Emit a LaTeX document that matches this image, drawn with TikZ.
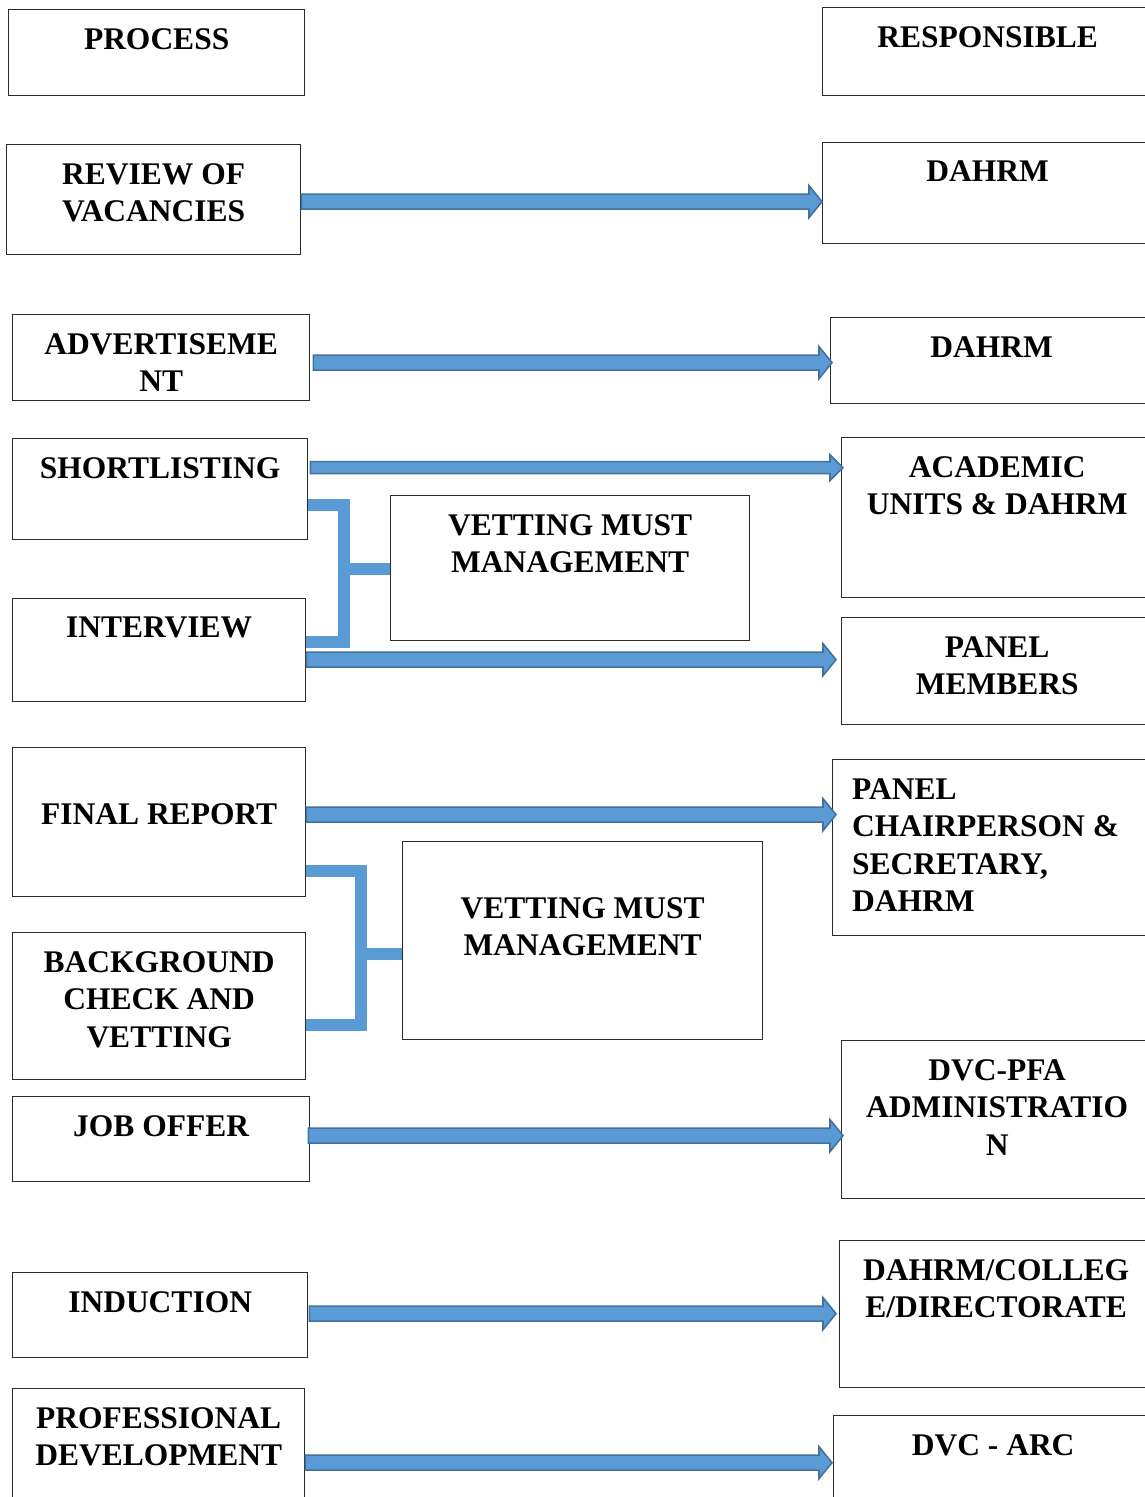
\documentclass[tikz,border=0pt]{standalone}
\usepackage{fontspec}
\setmainfont{Liberation Serif}
\usetikzlibrary{calc}

\definecolor{arrowfill}{HTML}{5B9BD5}
\definecolor{arrowline}{HTML}{41719C}
\definecolor{boxline}{HTML}{2B2B2B}

% block arrow from #2 to the x of #2, #1 = half shaft width
\newcommand{\flowarrow}[3][7.5]{%
  \draw[flow] let \p1=(#2), \p2=(#3) in
    (\x1,\y1+#1pt) -- (\x2-13pt,\y1+#1pt) -- (\x2-13pt,\y1+2.13*#1pt) -- (\x2,\y1)
    -- (\x2-13pt,\y1-2.13*#1pt) -- (\x2-13pt,\y1-#1pt) -- (\x1,\y1-#1pt) -- cycle;}

\begin{document}
\begin{tikzpicture}[x=1pt,y=-1pt,
  box/.style={draw=boxline, line width=1.3pt, inner sep=0pt, anchor=north west},
  txt/.style={anchor=north, align=center, inner sep=0pt, yshift=-19pt,
    font=\bfseries\fontsize{31.5}{37.5}\selectfont},
  flow/.style={fill=arrowfill, draw=arrowline, line width=1.6pt, line join=miter},
  bracket/.style={draw=arrowfill, line width=12pt, line join=miter}]
	\useasboundingbox (0,0) rectangle (1144,1497);

	% process column
	\node[box, minimum width=296pt, minimum height=86pt, label={[txt]north:PROCESS}] (process) at (8,9) {};
	\node[box, minimum width=294pt, minimum height=110pt, label={[txt]north:REVIEW OF\\VACANCIES}] (review) at (6,144) {};
	\node[box, minimum width=297pt, minimum height=86pt, label={[txt]north:ADVERTISEME\\NT}] (advert) at (12,314) {};
	\node[box, minimum width=295pt, minimum height=101pt, label={[txt]north:SHORTLISTING}] (short) at (12,438) {};
	\node[box, minimum width=293pt, minimum height=103pt, label={[txt]north:INTERVIEW}] (interview) at (12,598) {};
	\node[box, minimum width=293pt, minimum height=149pt, label={[txt, yshift=-37pt]north:FINAL REPORT}] (final) at (12,747) {};
	\node[box, minimum width=293pt, minimum height=147pt, label={[txt]north:BACKGROUND\\CHECK AND\\VETTING}] (check) at (12,932) {};
	\node[box, minimum width=297pt, minimum height=85pt, label={[txt]north:JOB OFFER}] (offer) at (12,1096) {};
	\node[box, minimum width=295pt, minimum height=85pt, label={[txt]north:INDUCTION}] (induct) at (12,1272) {};
	\node[box, minimum width=292pt, minimum height=122pt, label={[txt]north:PROFESSIONAL\\DEVELOPMENT}] (prof) at (12,1388) {};

	% vetting
	\node[box, minimum width=359pt, minimum height=145pt, label={[txt]north:VETTING MUST\\MANAGEMENT}] (vetA) at (390,495) {};
	\node[box, minimum width=360pt, minimum height=198pt, label={[txt, yshift=-37pt]north:VETTING MUST\\MANAGEMENT}] (vetB) at (402,841) {};

	% responsible column
	\node[box, minimum width=330pt, minimum height=88pt, label={[txt]north:RESPONSIBLE}] (resp) at (822,7) {};
	\node[box, minimum width=330pt, minimum height=101pt, label={[txt]north:DAHRM}] (dahrmA) at (822,142) {};
	\node[box, minimum width=322pt, minimum height=86pt, label={[txt]north:DAHRM}] (dahrmB) at (830,317) {};
	\node[box, minimum width=311pt, minimum height=160pt, label={[txt]north:ACADEMIC\\UNITS \& DAHRM}] (units) at (841,437) {};
	\node[box, minimum width=311pt, minimum height=107pt, label={[txt]north:PANEL\\MEMBERS}] (panel) at (841,617) {};
	\node[box, minimum width=320pt, minimum height=176pt, label={[txt, anchor=north west, align=left, xshift=20pt]north west:PANEL\\CHAIRPERSON \&\\SECRETARY,\\DAHRM}] (chair) at (832,759) {};
	\node[box, minimum width=311pt, minimum height=158pt, label={[txt]north:DVC-PFA\\ADMINISTRATIO\\N}] (dvcpfa) at (841,1040) {};
	\node[box, minimum width=313pt, minimum height=147pt, label={[txt]north:DAHRM/COLLEG\\E/DIRECTORATE}] (college) at (839,1240) {};
	\node[box, minimum width=319pt, minimum height=100pt, label={[txt]north:DVC - ARC}] (dvcarc) at (833,1415) {};

	% arrows
	\flowarrow{[yshift=-2pt]review.east}{dahrmA.west}
	\flowarrow{[xshift=3pt,yshift=-5pt]advert.east}{[xshift=2pt]dahrmB.west}
	\flowarrow[6]{[xshift=2pt,yshift=21.5pt]short.east}{[xshift=2pt]units.west}
	\flowarrow{[yshift=-9.5pt]interview.east}{[xshift=-5pt]panel.west}
	\flowarrow{[yshift=7.5pt]final.east}{[xshift=4pt]chair.west}
	\flowarrow{[xshift=-2pt,yshift=3.5pt]offer.east}{[xshift=2pt]dvcpfa.west}
	\flowarrow{[xshift=1pt,yshift=1.5pt]induct.east}{[xshift=-3pt]college.west}
	\flowarrow{[yshift=-13pt]prof.east}{[xshift=-1pt]dvcarc.west}

	% brackets
	\coordinate (brA) at (344,569);
	\draw[bracket] ([yshift=-15.5pt]short.east) -| (brA) |- ([yshift=8.5pt]interview.east);
	\draw[bracket] (brA) -- (vetA.west |- brA);
	\coordinate (brB) at (361,954);
	\draw[bracket] ([yshift=-48.5pt]final.east) -| (brB) |- ([yshift=-18.5pt]check.east);
	\draw[bracket] (brB) -- (vetB.west |- brB);
\end{tikzpicture}
\end{document}
